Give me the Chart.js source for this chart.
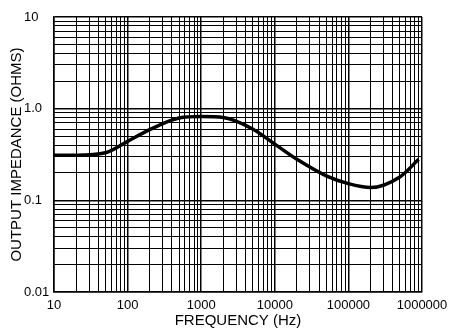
<!DOCTYPE html>
<html>
<head>
<meta charset="utf-8">
<script src="https://cdn.jsdelivr.net/npm/chart.js@4/dist/chart.umd.min.js"></script>
<style>
  html, body { margin: 0; padding: 0; background: #fff; }
  #wrap { width: 451px; height: 330px; }
</style>
</head>
<body>
<div id="wrap"><canvas id="c" width="451" height="330"></canvas></div>
<script>
// Frequency (Hz) and output impedance (ohms)
const frequencies = [10, 20, 50, 100, 200, 500, 1000, 2000, 5000, 10000, 20000, 50000, 100000, 200000, 500000, 900000];
const impedance   = [0.31, 0.31, 0.33, 0.44, 0.59, 0.79, 0.82, 0.80, 0.60, 0.41, 0.28, 0.185, 0.152, 0.138, 0.18, 0.28];

// Axis decades and their labels
const xDecades = [10, 100, 1000, 10000, 100000, 1000000];
const xTickLabels = ['10', '100', '1000', '10000', '100000', '1000000'];
const yDecades = [0.01, 0.1, 1, 10];
const yTickLabels = ['0.01', '0.1', '1.0', '10'];
const gridSteps = [1, 2, 3, 4, 5, 6, 7, 8, 9];

const xTitle = 'FREQUENCY (Hz)';
const yTitle = 'OUTPUT IMPEDANCE (OHMS)';

function gridTicks(decades) {
  const max = decades[decades.length - 1];
  const out = [];
  decades.forEach(d => {
    gridSteps.forEach(s => {
      const v = d * s;
      if (v <= max * 1.0000001) out.push({ value: v });
    });
  });
  return out;
}
function labelFor(value, decades, labels) {
  for (let i = 0; i < decades.length; i++) {
    if (Math.abs(value - decades[i]) / decades[i] < 1e-6) return labels[i];
  }
  return '';
}
function isDecade(value, decades) {
  return decades.some(d => Math.abs(value - d) / d < 1e-6);
}

const FONT = "'Liberation Sans', Arial, Helvetica, sans-serif";

new Chart(document.getElementById('c'), {
  type: 'line',
  data: {
    datasets: [{
      data: frequencies.map((f, i) => ({ x: f, y: impedance[i] })),
      borderColor: '#000',
      borderWidth: 3.5,
      pointRadius: 0,
      fill: false,
      cubicInterpolationMode: 'monotone'
    }]
  },
  options: {
    responsive: false,
    animation: false,
    layout: { padding: { left: 0, top: 17, right: 29, bottom: 0 } },
    plugins: { legend: { display: false }, tooltip: { enabled: false } },
    scales: {
      x: {
        type: 'logarithmic',
        min: 10, max: 1000000,
        afterBuildTicks: s => { s.ticks = gridTicks(xDecades); },
        afterFit: s => { s.height = 38; s.paddingLeft = 0; s.paddingRight = 0; },
        grid: {
          color: '#000',
          lineWidth: ctx => (ctx.tick && isDecade(ctx.tick.value, xDecades)) ? 1.5 : 1,
          drawTicks: false
        },
        border: { color: '#000', width: 1.5 },
        ticks: {
          autoSkip: false, maxRotation: 0, minRotation: 0,
          padding: 6,
          color: '#000',
          font: { family: FONT, size: 13 },
          callback: v => labelFor(v, xDecades, xTickLabels)
        },
        title: {
          display: true, text: xTitle, color: '#000',
          font: { family: FONT, size: 15 },
          padding: { top: 0, bottom: 0 }
        }
      },
      y: {
        type: 'logarithmic',
        position: 'left',
        weight: 0,
        min: 0.01, max: 10,
        afterBuildTicks: s => { s.ticks = gridTicks(yDecades); },
        afterFit: s => { s.width = 30; },
        grid: {
          color: '#000',
          lineWidth: ctx => (ctx.tick && isDecade(ctx.tick.value, yDecades)) ? 1.5 : 1,
          drawTicks: false
        },
        border: { color: '#000', width: 1.5 },
        ticks: {
          autoSkip: false,
          crossAlign: 'far',
          padding: 4,
          color: '#000',
          font: { family: FONT, size: 13 },
          callback: v => labelFor(v, yDecades, yTickLabels)
        }
      },
      yt: {
        type: 'linear',
        position: 'left',
        weight: 10,
        afterFit: s => { s.width = 24; },
        grid: { display: false, drawTicks: false },
        border: { display: false },
        ticks: { display: false },
        title: {
          display: true, text: yTitle, color: '#000',
          font: { family: FONT, size: 15 },
          padding: { top: 8, bottom: 0 }
        }
      }
    }
  }
});
</script>
</body>
</html>
